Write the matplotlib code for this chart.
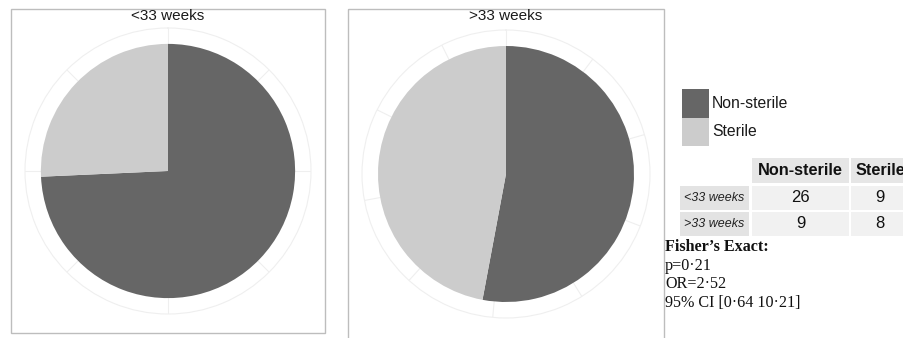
import numpy as np
import matplotlib
matplotlib.use("Agg")
import matplotlib.pyplot as plt
from matplotlib.patches import Rectangle

# data
groups = ["<33 weeks", ">33 weeks"]
categories = ["Non-sterile", "Sterile"]
non_sterile = [26, 9]
sterile = [9, 8]
fisher_lines = ["p=0\u00b721", "OR=2\u00b752", "95% CI [0\u00b764 10\u00b721]"]

colors = ["#666666", "#cccccc"]
grid_step = [35 / 8, 1.75]  # theta break spacing (counts) of each panel

W, H = 904, 338
fig = plt.figure(figsize=(W / 100, H / 100), dpi=100)
plt.rcParams['font.family'] = ['Liberation Sans', 'DejaVu Sans']

# overlay in pixel coords for borders, legend, table and notes
ov = fig.add_axes([0, 0, 1, 1])
ov.set_xlim(0, W)
ov.set_ylim(H, 0)
ov.axis("off")


def px_axes(left, top, w, h, **kw):
    return fig.add_axes([left / W, (H - top - h) / H, w / W, h / H], **kw)


# panel frames and titles
frames = [(11, 9, 314, 324), (348, 9, 316, 340)]
centers = [(168, 171, 143), (506, 174, 144)]
for i, g in enumerate(groups):
    x0, y0, fw, fh = frames[i]
    ov.add_patch(Rectangle((x0, y0), fw, fh, fill=False, ec="#bdbdbd", lw=1.0, clip_on=False))
    ov.text(x0 + fw / 2, 16, g, ha="center", va="center", fontsize=11, color="#1a1a1a")

    cx, cy, r = centers[i]
    ax = px_axes(cx - r, cy - r, 2 * r, 2 * r, projection="polar")
    vals = np.array([non_sterile[i], sterile[i]], dtype=float)
    total = vals.sum()
    widths = vals / total * 2 * np.pi
    starts = np.concatenate([[0], np.cumsum(widths)[:-1]])
    ax.set_theta_zero_location("N")
    ax.set_theta_direction(-1)
    ax.bar(starts, np.ones_like(vals), width=widths, align="edge", color=colors, lw=0)
    ax.set_ylim(0, 1.125)
    ticks = np.arange(0, total, grid_step[i]) / total * 2 * np.pi
    ax.set_xticks(ticks)
    ax.set_xticklabels([])
    ax.set_yticks([])
    ax.xaxis.grid(True, color="#efefef", lw=0.8)
    ax.set_axisbelow(True)
    ax.spines["polar"].set_color("#efefef")
    ax.spines["polar"].set_linewidth(0.8)

# legend
for j, c in enumerate(categories):
    ov.add_patch(Rectangle((682, 89 + j * 28.5), 27, 28.5, color=colors[j], lw=0))
    ov.text(712, 103 + j * 28.5, c, ha="left", va="center", fontsize=11.3, color="#1a1a1a")

# table
col_x = [(752, 849), (851, 915)]
row_y = [(158, 183), (186, 210), (212, 236)]
lab_x = (680, 749)
for j, c in enumerate(categories):
    a, b = col_x[j]
    y0, y1 = row_y[0]
    ov.add_patch(Rectangle((a, y0), b - a, y1 - y0, color="#e6e6e6", lw=0, clip_on=False))
    ov.text(a + 5 if j else (a + b) / 2, (y0 + y1) / 2, c, ha="left" if j else "center",
            va="center", fontsize=11.7, fontweight="bold", color="#111111", clip_on=False)
table_vals = [[non_sterile[0], sterile[0]], [non_sterile[1], sterile[1]]]
for i, g in enumerate(groups):
    y0, y1 = row_y[i + 1]
    ov.add_patch(Rectangle((lab_x[0], y0), lab_x[1] - lab_x[0], y1 - y0, color="#e3e3e3", lw=0))
    ov.text((lab_x[0] + lab_x[1]) / 2, (y0 + y1) / 2, g, ha="center", va="center",
            fontsize=9, style="italic", color="#222222")
    for j in range(2):
        a, b = col_x[j]
        ov.add_patch(Rectangle((a, y0), b - a, y1 - y0, color="#f1f1f1", lw=0, clip_on=False))
        ov.text((752 + 849) / 2 if j == 0 else 880, (y0 + y1) / 2, str(table_vals[i][j]),
                ha="center", va="center", fontsize=12, color="#111111")

# Fisher's exact notes
serif = ["Liberation Serif", "DejaVu Serif"]
ov.text(665, 247, "Fisher\u2019s Exact:", ha="left", va="center", fontsize=11.6,
        fontweight="bold", family=serif, color="#111111")
for k, line in enumerate(fisher_lines):
    ov.text(665, 266 + k * 18.5, line, ha="left", va="center", fontsize=11.6,
            family=serif, color="#111111")

fig.savefig("out.png", dpi=100)
